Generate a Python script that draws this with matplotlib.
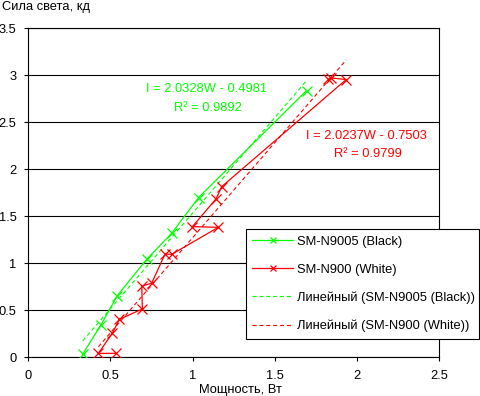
# Luminous intensity vs power for two phone models, with linear trendlines
import numpy as np
import matplotlib
matplotlib.use('Agg')
import matplotlib.pyplot as plt

plt.rcParams['font.family'] = ['Liberation Sans', 'DejaVu Sans']

# data
black_w = [0.331, 0.442, 0.541, 0.72, 0.872, 1.036, 1.693]
black_i = [0.035, 0.344, 0.655, 1.042, 1.319, 1.70, 2.838]

white_w = [0.533, 0.426, 0.511, 0.554, 0.694, 0.69, 0.75, 0.832, 0.872,
           1.156, 0.998, 1.142, 1.176, 1.934, 1.842, 1.826]
white_i = [0.042, 0.042, 0.255, 0.404, 0.514, 0.758, 0.787, 1.099, 1.095,
           1.383, 1.39, 1.685, 1.815, 2.955, 2.972, 2.958]

# trendline coefficients as printed on the chart
black_fit = (2.0328, -0.4981, 0.9892)
white_fit = (2.0237, -0.7503, 0.9799)

x_ticks = [0, 0.5, 1, 1.5, 2, 2.5]
x_labels = ['0', '0.5', '1', '1.5', '2', '2.5']
y_ticks = [0, 0.5, 1, 1.5, 2, 2.5, 3, 3.5]
y_labels = ['0', '0.5', '1', '1.5', '2', '2.5', '3', '3.5']

GREEN = '#00ff00'
RED = '#ff0000'
FS = 9.3
W, H = 480, 396

fig = plt.figure(figsize=(4.8, 3.96), dpi=100)
ax = fig.add_axes([28.3 / W, 1 - 357.3 / H, 411 / W, 329 / H])

ax.plot(black_w, black_i, color=GREEN, lw=0.9, marker='x', ms=6.5, mew=0.9,
        label='SM-N9005 (Black)', zorder=3)
ax.plot(white_w, white_i, color=RED, lw=0.9, marker='x', ms=6.5, mew=0.9,
        label='SM-N900 (White)', zorder=3)

for w, fit, col, name in [(black_w, black_fit, GREEN, 'Линейный (SM-N9005 (Black))'),
                          (white_w, white_fit, RED, 'Линейный (SM-N900 (White))')]:
    xx = np.array([min(w), max(w)])
    ax.plot(xx, fit[0] * xx + fit[1], color=col, lw=0.8, ls=(0, (3.6, 2.6)),
            label=name, zorder=2)

ax.text(1.085, 2.851, 'I = 2.0328W - 0.4981', color=GREEN, fontsize=FS,
        ha='center', va='center')
ax.text(1.09, 2.649, 'R² = 0.9892', color=GREEN, fontsize=FS,
        ha='center', va='center')
ax.text(2.058, 2.354, 'I = 2.0237W - 0.7503', color=RED, fontsize=FS,
        ha='center', va='center')
ax.text(2.063, 2.16, 'R² = 0.9799', color=RED, fontsize=FS,
        ha='center', va='center')

ax.set_xlim(0, 2.5)
ax.set_ylim(0, 3.5)
ax.set_xticks(x_ticks, x_labels)
ax.set_yticks(y_ticks, y_labels)
ax.tick_params(direction='out', length=3, width=0.8, labelsize=FS, colors='black')
ax.tick_params(axis='x', pad=6)
ax.tick_params(axis='y', pad=5.5)
ax.yaxis.grid(True, color='black', lw=0.8, ls='-')
ax.set_axisbelow(True)
for sp in ax.spines.values():
    sp.set_linewidth(0.8)
    sp.set_color('black')

leg = ax.legend(loc='upper left', mode='expand',
                bbox_to_anchor=(245.7 / W, 1 - 338.3 / H, (478.5 - 245.7) / W, 109 / H),
                bbox_transform=fig.transFigure, borderaxespad=0, fontsize=FS,
                fancybox=False, framealpha=1, edgecolor='black', borderpad=0.5,
                labelspacing=1.22, handlelength=3.2, handletextpad=0.3,
                markerscale=0.6)
leg.get_frame().set_linewidth(0.8)
leg.set_zorder(5)

fig.text(1.5 / W, 1 - 10 / H, 'Сила света, кд', fontsize=FS, va='baseline', ha='left')
fig.text(240.2 / W, 3.3 / H, 'Мощность, Вт', fontsize=FS, va='baseline', ha='center')

fig.savefig('out.png', dpi=100)
